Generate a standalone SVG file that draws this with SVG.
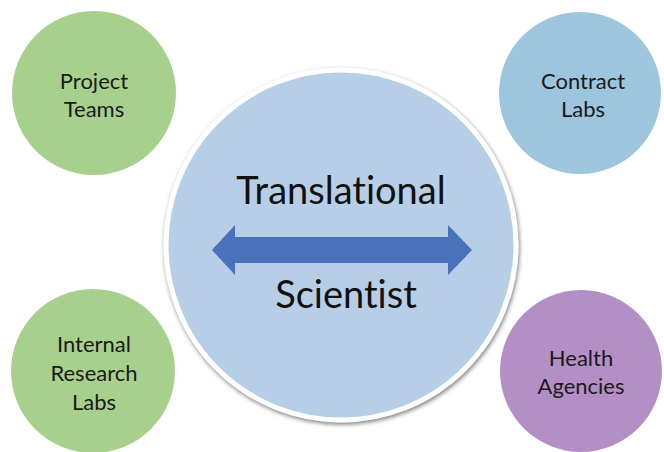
<svg xmlns="http://www.w3.org/2000/svg" width="664" height="452" viewBox="0 0 664 452">
  <defs>
    <filter id="shadow" x="-10%" y="-10%" width="120%" height="120%">
      <feGaussianBlur in="SourceAlpha" stdDeviation="2"/>
      <feOffset dx="1" dy="2" result="b"/>
      <feFlood flood-color="#5e5e5e" flood-opacity="0.8"/>
      <feComposite in2="b" operator="in"/>
      <feMerge><feMergeNode/><feMergeNode in="SourceGraphic"/></feMerge>
    </filter>
    <style>
      text { font-variant-ligatures: none; font-feature-settings: "liga" 0, "clig" 0; }
      .small { font-family: Lato, "Liberation Sans", sans-serif; font-size: 22px; fill: #1a1a1a; text-anchor: middle; }
      .big { font-family: Lato, "Liberation Sans", sans-serif; font-size: 38px; fill: #111111; text-anchor: middle; }
      .green { fill: #a8d08d; }
      .cblue { fill: #9dc5dd; }
      .purple { fill: #b48fc5; }
    </style>
  </defs>
  <rect width="664" height="452" fill="#ffffff"/>

  <g id="project-teams">
    <circle cx="94" cy="93" r="82" class="green"/>
    <text class="small" x="94" y="89">Project</text>
    <text class="small" x="94" y="117">Teams</text>
  </g>

  <g id="contract-labs">
    <circle cx="580" cy="93" r="81" class="cblue"/>
    <text class="small" x="583" y="89">Contract</text>
    <text class="small" x="583" y="117">Labs</text>
  </g>

  <g id="internal-research-labs">
    <circle cx="93" cy="371" r="82" class="green"/>
    <text class="small" x="94" y="352">Internal</text>
    <text class="small" x="94" y="381">Research</text>
    <text class="small" x="94" y="410">Labs</text>
  </g>

  <g id="health-agencies">
    <circle cx="581" cy="371" r="81" class="purple"/>
    <text class="small" x="581" y="366">Health</text>
    <text class="small" x="581" y="394">Agencies</text>
  </g>

  <g id="translational-scientist">
    <circle cx="341" cy="245" r="175" fill="#b6cfe7" stroke="#ffffff" stroke-width="5" filter="url(#shadow)"/>
    <text class="big" x="341" y="204">Translational</text>
    <text class="big" x="346" y="308">Scientist</text>
  </g>

  <g id="connectors">
    <polygon points="212,250 235,225 235,237 448,237 448,225 472,250 448,275 448,263 235,263 235,275" fill="#4a72bb"/>
  </g>
</svg>
